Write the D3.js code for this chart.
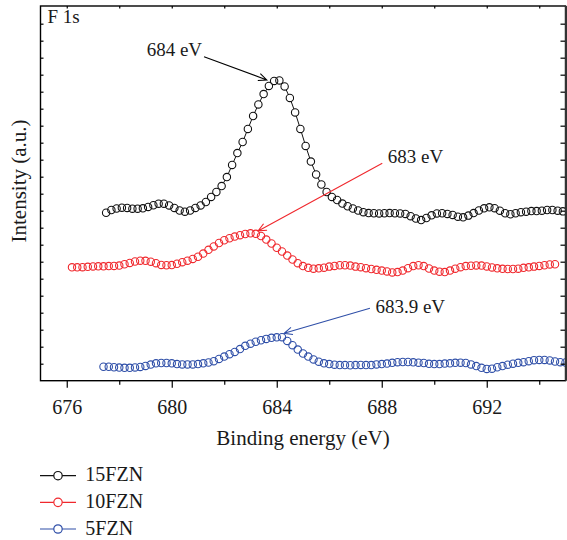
<!DOCTYPE html>
<html>
<head>
<meta charset="utf-8">
<script src="https://cdn.jsdelivr.net/npm/d3@7"></script>
<style>
  body { margin: 0; background: #fff; }
  text { font-family: "Liberation Serif", "Times New Roman", serif; fill: #1a1a1a; }
</style>
</head>
<body>
<script>
// F 1s XPS spectra (intensity in arbitrary units)
var seriesNames = ["15FZN", "10FZN", "5FZN"];
var startEnergy = [677.5, 676.2, 677.4];   // first binding energy of each scan (eV)
var energyStep = 0.2;                      // scan step (eV)

var fzn15 = [
  9.88, 10.04, 10.13, 10.18, 10.16, 10.12, 10.12, 10.14, 10.22, 10.32,
  10.41, 10.41, 10.31, 10.16, 10.01, 9.94, 10.01, 10.16, 10.31, 10.51,
  10.81, 11.10, 11.45, 11.98, 12.69, 13.39, 14.04, 14.81, 15.57, 16.25,
  16.86, 17.34, 17.63, 17.66, 17.31, 16.63, 15.78, 14.81, 13.81, 12.89,
  12.13, 11.54, 11.10, 10.81, 10.63, 10.42, 10.26, 10.13, 10.01, 9.91,
  9.86, 9.85, 9.84, 9.85, 9.86, 9.85, 9.84, 9.81, 9.68, 9.54,
  9.45, 9.57, 9.73, 9.84, 9.85, 9.81, 9.75, 9.65, 9.61, 9.71,
  9.86, 10.01, 10.14, 10.20, 10.15, 10.00, 9.85, 9.79, 9.85, 9.91,
  9.94, 9.98, 9.98, 10.00, 10.04, 10.04, 10.00, 9.96
];
var fzn10 = [
  6.67, 6.67, 6.68, 6.70, 6.72, 6.73, 6.73, 6.74, 6.75, 6.77,
  6.85, 6.93, 7.01, 7.06, 7.05, 7.00, 6.91, 6.81, 6.79, 6.80,
  6.88, 6.97, 7.06, 7.16, 7.29, 7.48, 7.70, 7.90, 8.10, 8.26,
  8.38, 8.48, 8.56, 8.63, 8.67, 8.64, 8.51, 8.30, 8.07, 7.82,
  7.60, 7.36, 7.13, 6.91, 6.74, 6.64, 6.59, 6.61, 6.65, 6.71,
  6.75, 6.79, 6.79, 6.77, 6.71, 6.68, 6.62, 6.57, 6.52, 6.48,
  6.43, 6.37, 6.39, 6.48, 6.62, 6.74, 6.79, 6.74, 6.60, 6.48,
  6.41, 6.39, 6.48, 6.59, 6.68, 6.74, 6.76, 6.78, 6.77, 6.72,
  6.66, 6.61, 6.58, 6.57, 6.57, 6.59, 6.64, 6.67, 6.71, 6.75,
  6.79, 6.84, 6.85
];
var fzn5 = [
  0.82, 0.82, 0.79, 0.77, 0.76, 0.76, 0.78, 0.81, 0.87, 0.95,
  1.02, 1.04, 1.04, 1.02, 0.98, 0.96, 0.96, 0.96, 0.98, 1.02,
  1.07, 1.15, 1.28, 1.42, 1.56, 1.69, 1.86, 2.05, 2.18, 2.29,
  2.38, 2.46, 2.52, 2.55, 2.56, 2.34, 2.09, 1.83, 1.60, 1.42,
  1.25, 1.12, 1.02, 0.98, 0.94, 0.92, 0.92, 0.91, 0.92, 0.93,
  0.92, 0.92, 0.96, 0.98, 1.01, 1.05, 1.09, 1.10, 1.10, 1.08,
  1.06, 1.04, 0.99, 0.98, 0.98, 1.01, 1.02, 1.05, 1.06, 1.04,
  0.96, 0.86, 0.76, 0.69, 0.71, 0.79, 0.86, 0.94, 1.00, 1.05,
  1.09, 1.15, 1.21, 1.22, 1.22, 1.19, 1.13, 1.09, 1.07
];

var xMajorTicks = [676, 680, 684, 688, 692];
var xMinorTicks = [678, 682, 686, 690, 694];

// peak labels: text, arrow tail and arrow tip in data units [eV, intensity]
var peakLabels = ["684 eV", "683 eV", "683.9 eV"];
var arrowTail = [[681.23, 19.06], [688.02, 12.79], [687.55, 4.26]];
var arrowTip = [[683.62, 17.69], [683.29, 8.81], [684.28, 2.79]];

var colors = ["#111111", "#f0282d", "#2f4fa8"];

var width = 567, height = 540;
var svg = d3.select("body")
    .append("svg")
    .attr("width", width)
    .attr("height", height);

var x = d3.scaleLinear().domain([675, 695]).range([40.5, 565.5]);
var y = d3.scaleLinear().domain([0, 22.04]).range([380.7, 6]);

svg.append("clipPath")
    .attr("id", "plot-clip")
    .append("rect")
    .attr("x", x(675))
    .attr("y", y(22.04))
    .attr("width", x(695) - x(675))
    .attr("height", y(0) - y(22.04));

// build the series
var allSeries = [fzn15, fzn10, fzn5].map(function (vals, k) {
    return {
        name: seriesNames[k],
        color: colors[k],
        points: vals.map(function (v, i) {
            return { e: startEnergy[k] + i * energyStep, v: v };
        })
    };
});

var line = d3.line()
    .x(function (d) { return x(d.e); })
    .y(function (d) { return y(d.v); });

var plot = svg.append("g").attr("clip-path", "url(#plot-clip)");

var R = 3.7;
allSeries.forEach(function (s) {
    var g = plot.append("g");
    g.append("path")
        .datum(s.points)
        .attr("d", line)
        .attr("fill", "none")
        .attr("stroke", s.color)
        .attr("stroke-width", 1);
    // white fills first so the line is hidden, then the full rings on top
    g.selectAll("circle.fill")
        .data(s.points)
        .enter()
        .append("circle")
        .attr("class", "fill")
        .attr("cx", function (d) { return x(d.e); })
        .attr("cy", function (d) { return y(d.v); })
        .attr("r", R)
        .attr("fill", "#fff");
    g.selectAll("circle.ring")
        .data(s.points)
        .enter()
        .append("circle")
        .attr("class", "ring")
        .attr("cx", function (d) { return x(d.e); })
        .attr("cy", function (d) { return y(d.v); })
        .attr("r", R)
        .attr("fill", "none")
        .attr("stroke", s.color)
        .attr("stroke-width", 1.1);
});

// annotations with open arrow heads
peakLabels.forEach(function (label, k) {
    var x0 = x(arrowTail[k][0]), y0 = y(arrowTail[k][1]);
    var x1 = x(arrowTip[k][0]), y1 = y(arrowTip[k][1]);
    var ang = Math.atan2(y1 - y0, x1 - x0);
    var len = 9, spread = 0.42;
    var head = "M" + (x1 - len * Math.cos(ang - spread)) + "," + (y1 - len * Math.sin(ang - spread)) +
        "L" + x1 + "," + y1 +
        "L" + (x1 - len * Math.cos(ang + spread)) + "," + (y1 - len * Math.sin(ang + spread));
    svg.append("path")
        .attr("d", "M" + x0 + "," + y0 + "L" + x1 + "," + y1 + head)
        .attr("fill", "none")
        .attr("stroke", k === 0 ? "#000" : colors[k])
        .attr("stroke-width", 1.1);

    var t = svg.append("text")
        .attr("font-size", "19px")
        .text(label);
    if (k === 0) {
        t.attr("x", x0 - 2).attr("y", y0 - 1).attr("text-anchor", "end");
    } else {
        t.attr("x", x0 + 5.5).attr("y", y0 + (k === 1 ? 0 : 5));
    }
});

// axes and frame
function styleAxis(g) {
    g.select(".domain").remove();
    g.selectAll(".tick line").attr("stroke", "#000").attr("stroke-width", 1.2);
}

svg.append("g")
    .attr("transform", "translate(0," + y(0) + ")")
    .call(d3.axisBottom(x).tickValues(xMajorTicks).tickSize(7).tickPadding(12).tickFormat(d3.format("d")))
    .call(styleAxis)
    .selectAll("text")
    .attr("font-size", "20px")
    .attr("font-family", "Liberation Serif, serif")
    .attr("fill", "#1a1a1a");

svg.append("g")
    .attr("transform", "translate(0," + y(0) + ")")
    .call(d3.axisBottom(x).tickValues(xMinorTicks).tickSize(4).tickFormat(""))
    .call(styleAxis);

svg.append("g")
    .attr("transform", "translate(0," + y(22.04) + ")")
    .call(d3.axisBottom(x).tickValues(xMajorTicks.concat(xMinorTicks)).tickSize(2.5).tickFormat(""))
    .call(styleAxis);

var yTicks = d3.range(1, 22);
svg.append("g")
    .attr("transform", "translate(" + x(675) + ",0)")
    .call(d3.axisRight(y).tickValues(yTicks).tickSize(3).tickFormat(""))
    .call(styleAxis);

svg.append("g")
    .attr("transform", "translate(" + x(695) + ",0)")
    .call(d3.axisLeft(y).tickValues(yTicks).tickSize(5).tickFormat(""))
    .call(styleAxis);

svg.append("rect")
    .attr("x", x(675))
    .attr("y", y(22.04))
    .attr("width", x(695) - x(675))
    .attr("height", y(0) - y(22.04))
    .attr("fill", "none")
    .attr("stroke", "#000")
    .attr("stroke-width", 1.4);

svg.append("line")
    .attr("x1", x(695) + 0.5).attr("x2", x(695) + 0.5)
    .attr("y1", y(22.04)).attr("y2", y(0))
    .attr("stroke", "#333")
    .attr("stroke-width", 2);

svg.append("text")
    .attr("x", 47.5)
    .attr("y", 23.3)
    .attr("font-size", "19px")
    .text("F 1s");

svg.append("text")
    .attr("x", 303)
    .attr("y", 445)
    .attr("text-anchor", "middle")
    .attr("font-size", "21px")
    .text("Binding energy (eV)");

svg.append("text")
    .attr("transform", "translate(26,181) rotate(-90)")
    .attr("text-anchor", "middle")
    .attr("font-size", "21px")
    .text("Intensity (a.u.)");

// legend below the plot
var legend = svg.append("g");
allSeries.forEach(function (s, k) {
    var ly = 475.7 + k * 26.65;
    legend.append("line")
        .attr("x1", 40).attr("x2", 76)
        .attr("y1", ly).attr("y2", ly)
        .attr("stroke", s.color)
        .attr("stroke-width", 1.2);
    legend.append("circle")
        .attr("cx", 58).attr("cy", ly)
        .attr("r", 4.2)
        .attr("fill", "#fff")
        .attr("stroke", s.color)
        .attr("stroke-width", 1.2);
    legend.append("text")
        .attr("x", 85.3)
        .attr("y", ly + 5.5)
        .attr("font-size", "20px")
        .text(s.name);
});
</script>
</body>
</html>
